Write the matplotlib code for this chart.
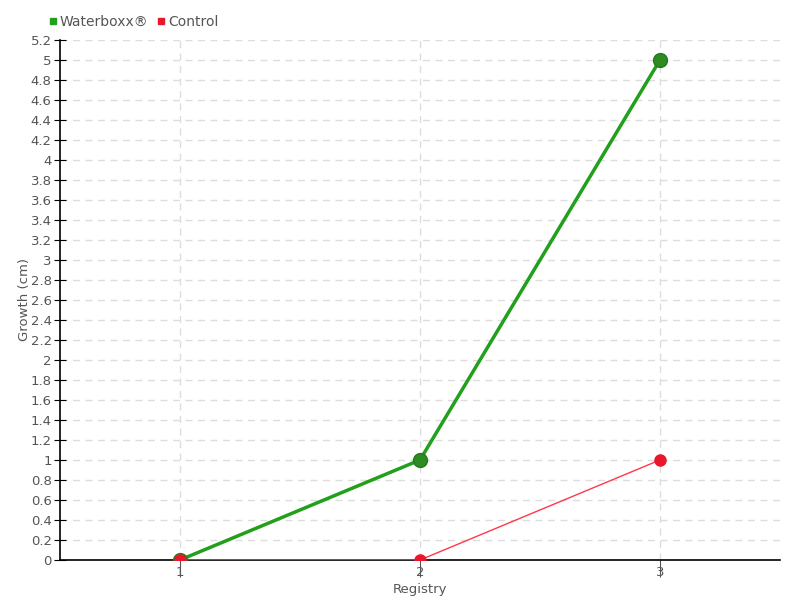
import numpy as np
import matplotlib.pyplot as plt
from matplotlib.ticker import MultipleLocator
from matplotlib.lines import Line2D

registry = [1, 2, 3]
waterboxx = [0, 1, 5]
control = [0, 0, 1]

plt.rcParams['font.family'] = ['DejaVu Sans']
txt = '#555555'
green = '#22a01c'
red = '#e8172c'

fig = plt.figure(figsize=(8, 6), dpi=100)
ax = fig.add_axes([0.075, 0.0667, 0.9, 0.8667])

ax.plot(registry, waterboxx, '-', color=green, lw=2.5, zorder=3)
ax.plot(registry, waterboxx, 'o', color='#2c8c22', mec='#257a1e', ms=10, zorder=4)
ax.plot(registry, control, '-', color='#ff3848', lw=1, zorder=3)
ax.plot(registry, control, 'o', color=red, mec=red, ms=8, zorder=5)

ax.set_xlim(0.5, 3.5)
ax.set_ylim(0, 5.2)
ax.set_xticks(registry)
ax.yaxis.set_major_locator(MultipleLocator(0.2))
ax.yaxis.set_major_formatter(plt.FuncFormatter(lambda v, p: ('%.1f' % v).rstrip('0').rstrip('.')))

ax.grid(True, color='#dddddd', ls=(0, (5, 4)), lw=1)
ax.set_axisbelow(True)
for s in ['top', 'right']:
    ax.spines[s].set_visible(False)
ax.spines['left'].set_linewidth(1.2)
ax.spines['bottom'].set_linewidth(1.2)
ax.tick_params(axis='y', direction='inout', length=8, labelsize=9.5, labelcolor=txt, pad=2)
ax.tick_params(axis='x', direction='out', length=12, labelsize=9.5, labelcolor=txt, color='#555555', pad=-8)

ax.set_xlabel('Registry', color=txt, fontsize=9.5)
ax.xaxis.set_label_coords(0.5, -0.045)
ax.set_ylabel('Growth (cm)', color=txt, fontsize=9.5)
ax.yaxis.set_label_coords(-0.04, 0.5)

handles = [Line2D([], [], ls='none', marker='s', ms=5, color=green),
           Line2D([], [], ls='none', marker='s', ms=5, color=red)]
leg = fig.legend(handles, ['Waterboxx®', 'Control'], loc='center left',
                 bbox_to_anchor=(0.061, 0.964), ncol=2, frameon=False,
                 handlelength=0.6, handletextpad=0.2, columnspacing=0.6,
                 borderpad=0, borderaxespad=0, fontsize=10)
for t in leg.get_texts():
    t.set_color(txt)

fig.savefig('out.png', dpi=100)
